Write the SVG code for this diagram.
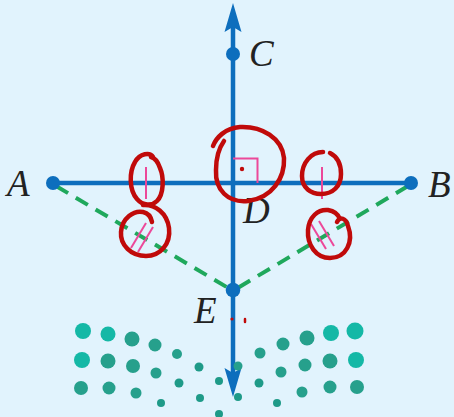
<svg xmlns="http://www.w3.org/2000/svg" width="454" height="417" viewBox="0 0 454 417">
<style>
.ax{stroke:#0d6ebd;stroke-width:4.5;fill:none}
.pt{fill:#0d6ebd}
.dash{stroke:#1fa85c;stroke-width:4;fill:none;stroke-dasharray:14 9}
.tick{stroke:#ec4899;stroke-width:2;fill:none}
.red{stroke:#c00a0a;stroke-width:4.5;fill:none;stroke-linecap:round;stroke-linejoin:round}
.lbl{font-family:"Liberation Serif","DejaVu Serif",serif;font-style:italic;font-size:37px;fill:#222}
.d1{fill:#14b8a6}
.d2{fill:#26a08c}
.d3{fill:#1e9a88}
</style>
<rect width="454" height="417" fill="#e1f3fd"/>
<g id="connectors">
<line class="ax" x1="233" y1="25" x2="233" y2="375"/>
<path d="M233,3 L224.5,32 L233,27 L241.5,32 Z" fill="#0d6ebd"/>
<path d="M233,397 L224.5,368 L233,373 L241.5,368 Z" fill="#0d6ebd"/>
<line class="ax" x1="53" y1="183" x2="411" y2="183"/>
<line class="dash" x1="56" y1="186" x2="230" y2="289"/>
<line class="dash" x1="408" y1="186" x2="236" y2="289"/>
</g>
<g id="marks">
<line class="tick" x1="146" y1="167" x2="146" y2="199"/>
<line class="tick" x1="322" y1="167" x2="322" y2="199"/>
<path class="tick" d="M233,158.5 H257.5 V183"/>
<line class="tick" x1="131" y1="248" x2="146" y2="223"/>
<line class="tick" x1="138" y1="252" x2="153" y2="227"/>
<line class="tick" x1="311" y1="224" x2="326" y2="249"/>
<line class="tick" x1="319" y1="221" x2="334" y2="246"/>
</g>
<g id="A"><circle class="pt" cx="53" cy="183" r="7"/><text class="lbl" x="7" y="196">A</text></g>
<g id="B"><circle class="pt" cx="411" cy="183" r="7"/><text class="lbl" x="428" y="197">B</text></g>
<g id="C"><circle class="pt" cx="233" cy="54" r="7"/><text class="lbl" x="249" y="66">C</text></g>
<g id="D"><text class="lbl" x="243" y="223">D</text></g>
<g id="E"><circle class="pt" cx="233" cy="290" r="7.3"/><text class="lbl" x="194" y="323">E</text></g>
<g id="annotations">
<path class="red" d="M153,157 C150,152 140,153 135,162 C129,172 129,190 137,199 C143,206 152,206 157,201 C164,194 164,177 160,168 C158,162 155,158 151,157"/>
<path class="red" d="M143,205 C155,204 167,213 169,228 C171,244 160,256 146,256 C131,256 120,245 121,232 C122,218 134,210 143,212 C148,213 151,217 152,222"/>
<path class="red" d="M213,146 C216,138 225,128 240,127 C262,126 282,138 284,158 C285,178 272,198 248,201 C228,203 215,190 216,170 C216,158 219,148 224,141"/>
<circle cx="242" cy="169" r="2.2" fill="#c00a0a"/>
<path class="red" d="M323,152 C311,152 302,163 302,176 C302,188 311,194 321,194 C333,194 341,186 341,174 C341,163 336,156 330,153"/>
<path class="red" d="M337,222 C340,216 346,218 348,226 C354,242 346,258 330,258 C316,258 307,245 308,230 C309,217 318,209 328,210 C334,211 338,214 340,219"/>
<circle cx="232" cy="319" r="1.6" fill="#c00a0a"/>
<line x1="245" y1="319" x2="245" y2="322" stroke="#c00a0a" stroke-width="2.5" stroke-linecap="round"/>
</g>
<g id="dots">
<circle class="d1" cx="83" cy="331" r="8"/>
<circle class="d1" cx="108" cy="334" r="7.5"/>
<circle class="d2" cx="132" cy="339" r="7.5"/>
<circle class="d2" cx="155" cy="345" r="6.5"/>
<circle class="d2" cx="177" cy="354" r="5"/>
<circle class="d3" cx="199" cy="367" r="4.5"/>
<circle class="d3" cx="219" cy="381" r="4"/>
<circle class="d3" cx="219" cy="414" r="4"/>
<circle class="d1" cx="82" cy="360" r="8"/>
<circle class="d2" cx="108" cy="361" r="7.5"/>
<circle class="d2" cx="133" cy="366" r="7"/>
<circle class="d2" cx="156" cy="373" r="5.5"/>
<circle class="d3" cx="179" cy="383" r="4.5"/>
<circle class="d3" cx="200" cy="398" r="4"/>
<circle class="d2" cx="81" cy="388" r="7"/>
<circle class="d2" cx="109" cy="388" r="6.5"/>
<circle class="d2" cx="136" cy="393" r="5.5"/>
<circle class="d3" cx="161" cy="403" r="4"/>
<circle class="d2" cx="238" cy="366" r="4.5"/>
<circle class="d2" cx="260" cy="353" r="5.5"/>
<circle class="d2" cx="283" cy="344" r="6.5"/>
<circle class="d2" cx="307" cy="338" r="7.5"/>
<circle class="d1" cx="331" cy="333" r="8"/>
<circle class="d1" cx="355" cy="331" r="8.5"/>
<circle class="d2" cx="281" cy="372" r="5.5"/>
<circle class="d2" cx="305" cy="365" r="6.5"/>
<circle class="d2" cx="330" cy="361" r="7.5"/>
<circle class="d1" cx="356" cy="360" r="8"/>
<circle class="d3" cx="238" cy="397" r="4"/>
<circle class="d3" cx="259" cy="383" r="4.5"/>
<circle class="d2" cx="302" cy="392" r="5.5"/>
<circle class="d2" cx="330" cy="387" r="6.5"/>
<circle class="d2" cx="357" cy="387" r="7"/>
<circle class="d3" cx="277" cy="403" r="4"/>
</g>
</svg>
